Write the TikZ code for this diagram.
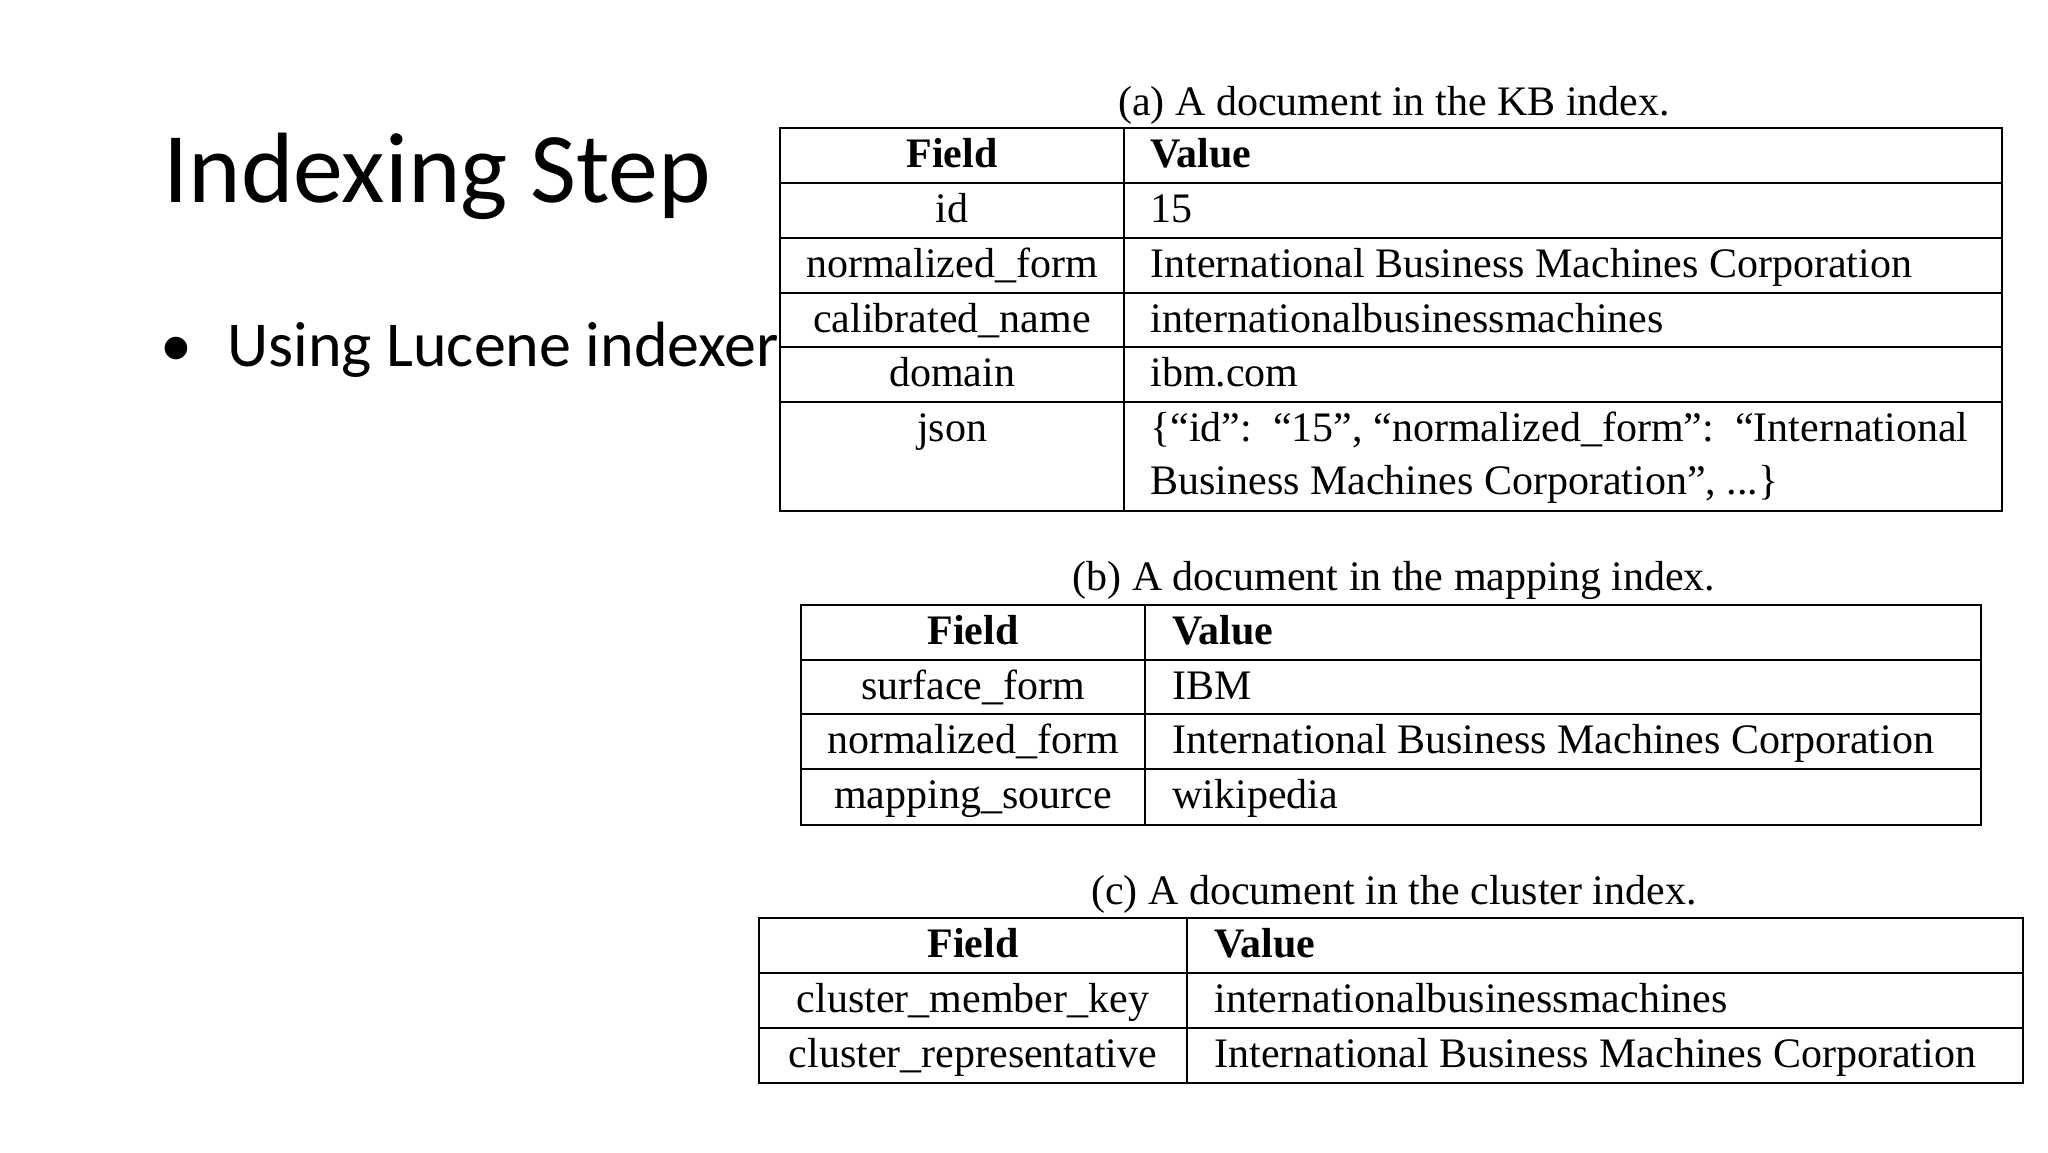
\documentclass[tikz,border=0pt]{standalone}
\usepackage{fontspec}
\setmainfont{Liberation Serif}
\newfontfamily\slidefont{Carlito}
\begin{document}
\begin{tikzpicture}[x=0.5pt,y=-0.5pt,
  cell/.style={anchor=base,inner sep=0pt,font=\fontsize{21}{25}\selectfont},
  val/.style={anchor=base west,inner sep=0pt,font=\fontsize{21}{25}\selectfont},
  captxt/.style={anchor=base,inner sep=0pt,font=\fontsize{21}{25}\selectfont},
  tab/.style={line width=1.3pt}]
\useasboundingbox (0,0) rectangle (2048,1152);
\node[anchor=base west,inner sep=0pt,font=\slidefont\fontsize{50}{60}\selectfont] (title) at (163,202) {Indexing Step};
\node[anchor=base west,inner sep=0pt,font=\slidefont\fontsize{32}{38}\selectfont] (bul) at (160,366) {•\hspace{0.55em}Using Lucene indexer};
% table a
\node[captxt] (capa) at (1394,115) {(a) A document in the KB index.};
\draw[tab] (780,128) rectangle (2002,511);
\foreach \y in {183,238,293,347,402} \draw[tab] (780,\y) -- (2002,\y);
\draw[tab] (1124,128) -- (1124,511);
\node[cell] (a1) at (952,167) {\textbf{Field}};
\node[val] (a1v) at (1150,167) {\textbf{Value}};
\node[cell] (a2) at (952,222) {id};
\node[val] (a2v) at (1150,222) {15};
\node[cell] (a3) at (952,277) {normalized\_form};
\node[val] (a3v) at (1150,277) {International Business Machines Corporation};
\node[cell] (a4) at (952,332) {calibrated\_name};
\node[val] (a4v) at (1150,332) {internationalbusinessmachines};
\node[cell] (a5) at (952,386) {domain};
\node[val] (a5v) at (1150,386) {ibm.com};
\node[cell] (a6) at (952,441) {json};
\node[val] (a6v) at (1150,441) {\{“id”:\ \ “15”,\ “normalized\_form”:\ \ “International};
\node[val] (a6w) at (1150,494) {Business Machines Corporation”, ...\}};
% table b
\node[captxt] (capb) at (1394,590) {(b) A document in the mapping index.};
\draw[tab] (801,605) rectangle (1981,825);
\foreach \y in {660,714,769} \draw[tab] (801,\y) -- (1981,\y);
\draw[tab] (1145,605) -- (1145,825);
\node[cell] (b1) at (973,644) {\textbf{Field}};
\node[val] (b1v) at (1172,644) {\textbf{Value}};
\node[cell] (b2) at (973,699) {surface\_form};
\node[val] (b2v) at (1172,699) {IBM};
\node[cell] (b3) at (973,753) {normalized\_form};
\node[val] (b3v) at (1172,753) {International Business Machines Corporation};
\node[cell] (b4) at (973,808) {mapping\_source};
\node[val] (b4v) at (1172,808) {wikipedia};
% table c
\node[captxt] (capc) at (1394,904) {(c) A document in the cluster index.};
\draw[tab] (759,918) rectangle (2023,1083);
\foreach \y in {973,1028} \draw[tab] (759,\y) -- (2023,\y);
\draw[tab] (1187,918) -- (1187,1083);
\node[cell] (c1) at (973,957) {\textbf{Field}};
\node[val] (c1v) at (1214,957) {\textbf{Value}};
\node[cell] (c2) at (973,1012) {cluster\_member\_key};
\node[val] (c2v) at (1214,1012) {internationalbusinessmachines};
\node[cell] (c3) at (973,1067) {cluster\_representative};
\node[val] (c3v) at (1214,1067) {International Business Machines Corporation};
\end{tikzpicture}
\end{document}
